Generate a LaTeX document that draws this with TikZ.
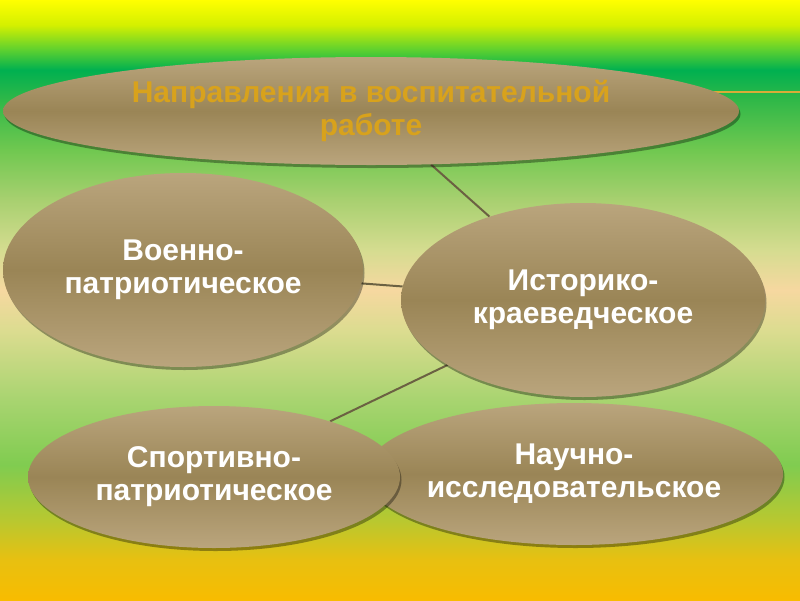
\documentclass[tikz,border=0pt]{standalone}
\usepackage{fontspec}
\setmainfont{Liberation Sans}
\usepackage{tikz}
\usetikzlibrary{shapes.geometric,shadows,backgrounds}

\definecolor{bgA}{HTML}{F8BC00}
\definecolor{bgB}{HTML}{E8C010}
\definecolor{bgC}{HTML}{B8C830}
\definecolor{bgD}{HTML}{80CC50}
\definecolor{bgE}{HTML}{A8D470}
\definecolor{bgF}{HTML}{DCDC90}
\definecolor{bgG}{HTML}{F6D8A0}
\definecolor{bgH}{HTML}{D5DC90}
\definecolor{bgI}{HTML}{A8D070}
\definecolor{bgJ}{HTML}{70C850}
\definecolor{bgK}{HTML}{30B848}
\definecolor{bgL}{HTML}{00B050}
\definecolor{bgM}{HTML}{5CD030}
\definecolor{bgN}{HTML}{D4F000}
\definecolor{bgO}{HTML}{FFFF00}
\definecolor{tanlight}{HTML}{BAA57D}
\definecolor{tandark}{HTML}{9A8556}
\definecolor{linkcol}{HTML}{6B6142}
\definecolor{goldtext}{HTML}{D8A21C}
\definecolor{goldline}{HTML}{D8AC38}

\pgfdeclareverticalshading{bgshade}{100bp}{color(0bp)=(bgA); color(25bp)=(bgA);
  color(28.33bp)=(bgB); color(31.67bp)=(bgC); color(36.25bp)=(bgD);
  color(41.67bp)=(bgE); color(47.5bp)=(bgF); color(50.83bp)=(bgG);
  color(54.17bp)=(bgH); color(58.33bp)=(bgI); color(62.5bp)=(bgJ);
  color(66.67bp)=(bgK); color(69.17bp)=(bgL); color(70.83bp)=(bgM);
  color(72.92bp)=(bgN); color(75bp)=(bgO); color(100bp)=(bgO)}

\begin{document}
\begin{tikzpicture}[x=1pt, y=-1pt,
	every node/.style={ellipse, inner sep=0pt, align=center, text=white,
		font=\fontsize{30}{33}\selectfont\bfseries,
		top color=tanlight, bottom color=tanlight, middle color=tandark,
		drop shadow={shadow xshift=1.5pt, shadow yshift=-3pt, opacity=0.35, fill=black}},
	link/.style={draw=linkcol, line width=2pt}]
				\useasboundingbox (0,0) rectangle (800,600);
				
				\node[minimum width=736pt, minimum height=108pt, text=goldtext] (top) at (371,111){Направления в воспитательной\\работе};
				\node[minimum width=360pt, minimum height=194pt] (mil) at (183,270){Военно-\\патриотическое};
				\node[minimum width=364pt, minimum height=194pt] (hist) at (583,300){Историко-\\краеведческое};
				\node[minimum width=418pt, minimum height=142pt] (sci) at (574,474){Научно-\\исследовательское};
				\node[minimum width=372pt, minimum height=142pt] (sport) at (214,477){Спортивно-\\патриотическое};
				
				\coordinate (goldend) at (800,92);
				
				\begin{scope}[on background layer]
				\shade[shading=bgshade] (0,0) rectangle (800,600);
				\path[link] (top) edge (hist);
				\path[link] (mil) edge (hist);
				\path[link] (hist) edge (sport);
				\path[draw=goldline, line width=2.5pt] (top.center |- goldend) -- (goldend);
				\end{scope}
				\end{tikzpicture}
\end{document}
